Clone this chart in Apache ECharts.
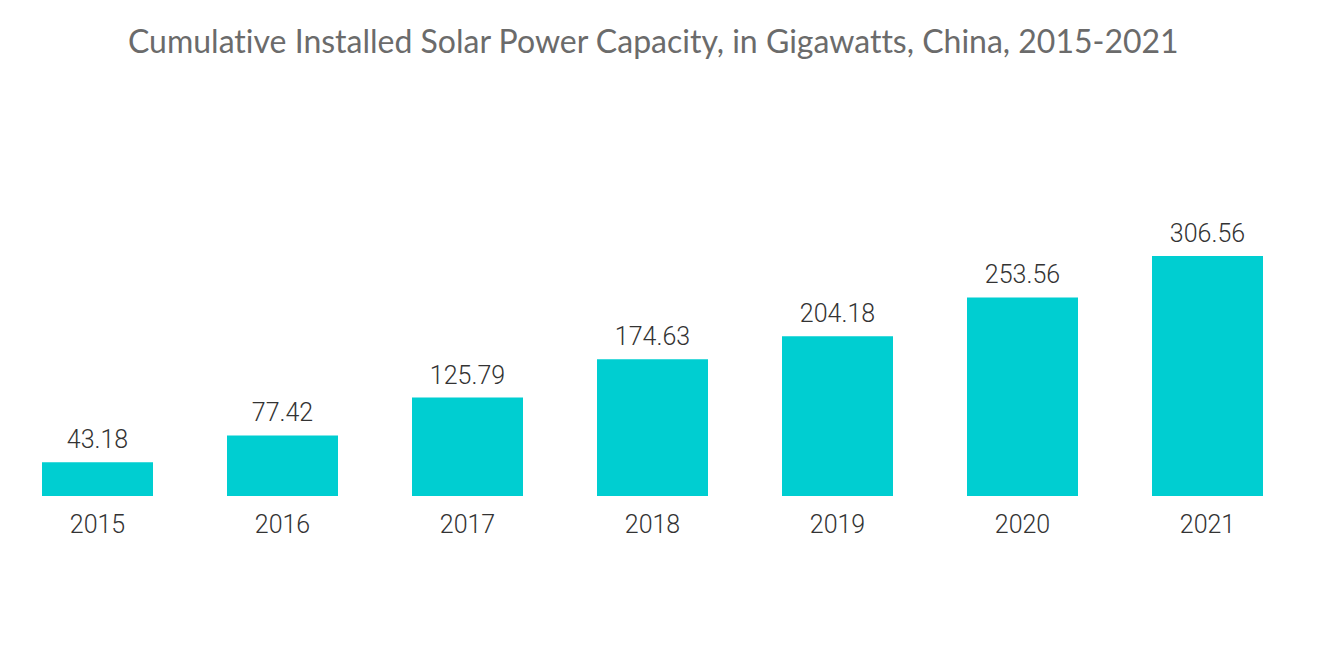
<!DOCTYPE html>
<html><head><meta charset="utf-8">
<script src="https://cdn.jsdelivr.net/npm/echarts@6/dist/echarts.min.js"></script>
<style>html,body{margin:0;padding:0;background:#fff}#c{width:1320px;height:665px}#c text{font-variant-ligatures:none}</style>
</head><body><div id="c"></div>
<script>
const categories = ['2015','2016','2017','2018','2019','2020','2021'];
const values = [43.18, 77.42, 125.79, 174.63, 204.18, 253.56, 306.56];
const titleText = 'Cumulative Installed Solar Power Capacity, in Gigawatts, China, 2015-2021';

const chart = echarts.init(document.getElementById('c'), null, {renderer:'svg'});
chart.setOption({
  animation:false,
  backgroundColor:'#fff',
  title:{text:titleText,left:123,top:19,textStyle:{fontFamily:'Lato',fontWeight:'normal',fontSize:32,color:'#6b6b6b'}},
  grid:{left:5,right:20,top:222,bottom:169,containLabel:false},
  xAxis:{type:'category',data:categories,axisLine:{show:false},axisTick:{show:false},
    axisLabel:{margin:16,fontFamily:'Roboto',fontWeight:300,fontSize:25,color:'#333'}},
  yAxis:{type:'value',min:0,max:350,show:false,splitLine:{show:false}},
  series:[{type:'bar',data:values,barWidth:'60%',itemStyle:{color:'#00CED1'},
    label:{show:true,position:'top',distance:10,fontFamily:'Roboto',fontWeight:300,fontSize:25,color:'#333',
      formatter:p=>p.value.toFixed(2)}}]
});
</script></body></html>
